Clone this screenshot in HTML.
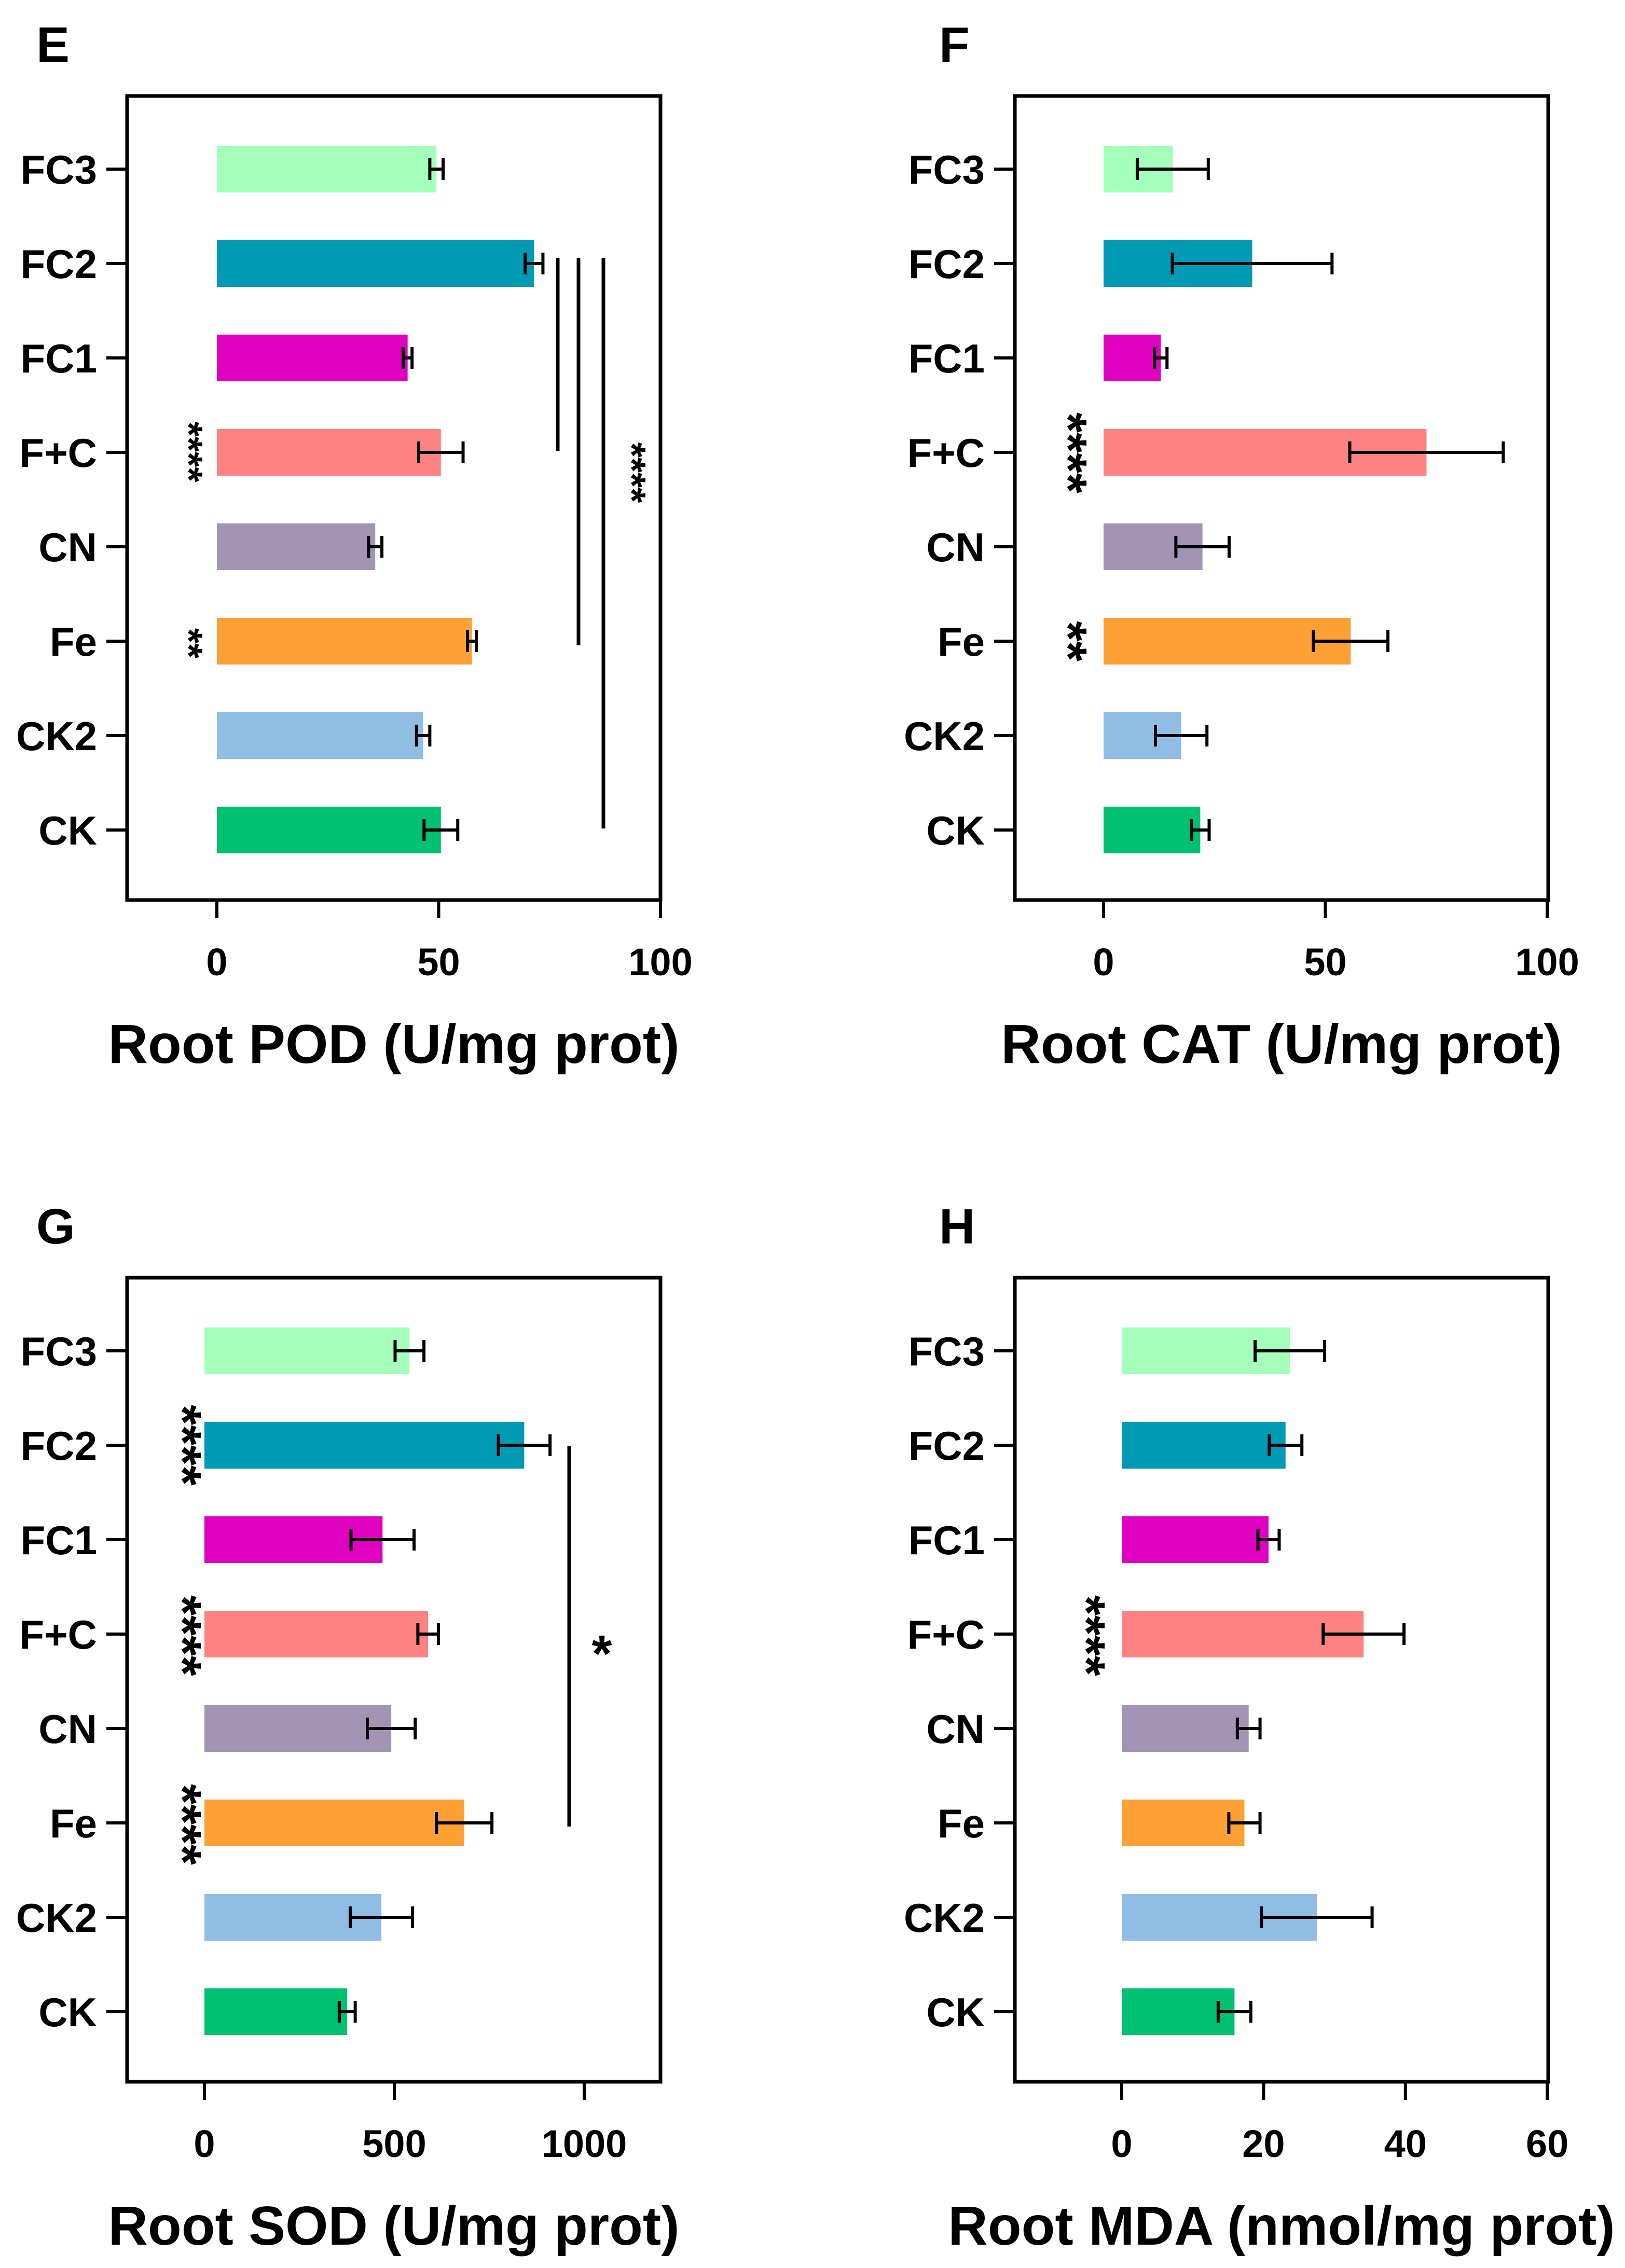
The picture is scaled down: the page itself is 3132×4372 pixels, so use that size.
<!DOCTYPE html>
<html><head><meta charset="utf-8"><style>
html,body{margin:0;padding:0;background:#fff;}
svg{display:block;}
text{font-family:"Liberation Sans",Arial,sans-serif;font-weight:bold;fill:#000;}
</style></head>
<body>
<svg id="fig" width="3132" height="4372" viewBox="0 0 3132 4372" xmlns="http://www.w3.org/2000/svg"></svg>
<script>
const categories = ["FC3","FC2","FC1","F+C","CN","Fe","CK2","CK"];
const barColors = ["#a3ffb9","#009ab5","#e000c0","#ff8282","#a394b5","#ffa035","#8fbde3","#00c072"];

const podValues = [49.5,71.5,43,50.5,35.7,57.5,46.5,50.5];
const podErrors = [1.5,2,1,5,1.5,1,1.5,3.8];
const podTicks = [0,50,100];

const catValues = [15.6,33.5,12.9,72.8,22.3,55.7,17.5,21.8];
const catErrors = [8,18,1.4,17.3,6,8.4,5.8,2];
const catTicks = [0,50,100];

const sodValues = [540,842,469,589,492,684,466,376];
const sodErrors = [38,68,83,27,63,73,82,21];
const sodTicks = [0,500,1000];

const mdaValues = [23.7,23.1,20.7,34.1,17.9,17.3,27.5,15.9];
const mdaErrors = [4.9,2.3,1.5,5.7,1.6,2.2,7.8,2.3];
const mdaTicks = [0,20,40,60];

const NS="http://www.w3.org/2000/svg";
const svg=document.getElementById('fig');
function mk(tag,attrs,parent){const e=document.createElementNS(NS,tag);for(const k in attrs)e.setAttribute(k,attrs[k]);(parent||svg).appendChild(e);return e;}

function panel(p){
  const g=mk('g',{});
  
  
  const L=p.left,R=L+1028,T=p.top,B=T+1550;
  const xs=v=>p.x0+(v)*p.k;
  const ys=i=>T+141+i*182;
  const letter=mk('text',{x:p.lx,y:T-66,'font-size':96},g);letter.textContent=p.letter;
  
  
  categories.forEach((c,i)=>{
    const y=ys(i),v=p.values[i],e=p.errors[i];
    const bar=mk('rect',{x:xs(0),y:y-45,width:xs(v)-xs(0),height:90,fill:barColors[i]},g);
    
    
    const eb=mk('path',{d:`M${xs(v-e)},${y}H${xs(v+e)}M${xs(v-e)},${y-21}v42M${xs(v+e)},${y-21}v42`,stroke:'#000','stroke-width':6,fill:'none'},g);
    
    
    const tk=mk('line',{x1:L-40,x2:L,y1:y,y2:y,stroke:'#000','stroke-width':6},g);
    
    
    const lb=mk('text',{x:L-58,y:y+28,'font-size':78,'text-anchor':'end'},g);lb.textContent=c;
    
    
  });
  const fr=mk('rect',{x:L,y:T,width:R-L,height:B-T,fill:'none',stroke:'#000','stroke-width':7},g);
  
  
  p.ticks.forEach(t=>{
    const x=xs(t);
    const tl=mk('line',{x1:x,x2:x,y1:B,y2:B+35,stroke:'#000','stroke-width':6},g);
    
    
    const tt=mk('text',{x:x,y:B+145,'font-size':74,'text-anchor':'middle'},g);tt.textContent=t;
    
    
  });
  const at=mk('text',{x:(L+R)/2,y:B+314,'font-size':106,'text-anchor':'middle'},g);at.textContent=p.title;
  
  
  (p.lines||[]).forEach(l=>{
    const sl=mk('line',{x1:l[0],x2:l[0],y1:l[1],y2:l[2],stroke:'#000','stroke-width':7},g);
    
    
  });
  (p.stars||[]).forEach(s=>{
    const st=mk('text',{x:0,y:0,'font-size':s[3],'text-anchor':'middle',transform:`translate(${s[0]},${s[1]}) rotate(90)`},g);
    st.textContent=s[2];
    
    
  });
  (p.plainStars||[]).forEach(s=>{
    const st=mk('text',{x:s[0],y:s[1],'font-size':s[3],'text-anchor':'middle'},g);
    st.textContent=s[2];
    
    
  });
}

panel({name:'panel-e-root-pod',letter:'E',lx:70,left:245,top:185,x0:418,k:8.55,values:podValues,errors:podErrors,ticks:podTicks,title:'Root POD (U/mg prot)',
  lines:[[1075,497,869],[1115,497,1244],[1163,497,1597]],
  stars:[[338,871,'****',75],[338,1240,'**',75],[1192,911,'****',75]]});
panel({name:'panel-f-root-cat',letter:'F',lx:1810,left:1956,top:185,x0:2127,k:8.55,values:catValues,errors:catErrors,ticks:catTicks,title:'Root CAT (U/mg prot)',
  stars:[[2025,873,'****',100],[2025,1236,'**',100]]});
panel({name:'panel-g-root-sod',letter:'G',lx:70,left:245,top:2463,x0:394,k:0.732,values:sodValues,errors:sodErrors,ticks:sodTicks,title:'Root SOD (U/mg prot)',
  lines:[[1097,2788,3521]],
  stars:[[318,2786,'****',100],[318,3153,'****',100],[318,3517,'****',100]],
  plainStars:[[1160,3222,'*',100]]});
panel({name:'panel-h-root-mda',letter:'H',lx:1810,left:1956,top:2463,x0:2162,k:13.67,values:mdaValues,errors:mdaErrors,ticks:mdaTicks,title:'Root MDA (nmol/mg prot)',
  stars:[[2060,3153,'****',100]]});
</script>
</body></html>
